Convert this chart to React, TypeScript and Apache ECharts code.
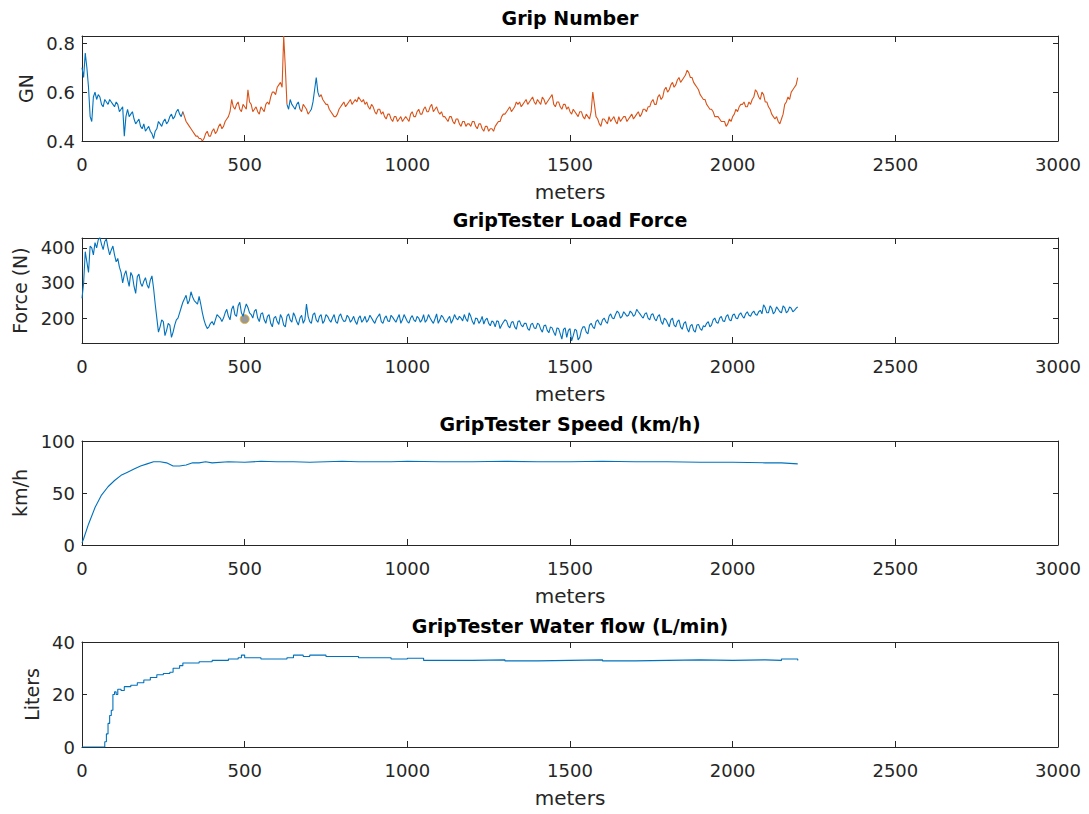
import React, { useEffect, useRef } from "react";
import * as echarts from "echarts";

// ---------- DATA ----------
const STEP_M = 10; // main sample spacing (m); MID arrays hold the samples in between (5 m offset)

// Grip number, every 10 m from 0 to 2200 m
const GN: number[] = [
  0.70, 0.76, 0.62, 0.48, 0.60, 0.59, 0.55, 0.57, 0.55, 0.56,
  0.54, 0.55, 0.53, 0.42, 0.53, 0.51, 0.49, 0.48, 0.46, 0.47,
  0.45, 0.44, 0.41, 0.45, 0.47, 0.48, 0.47, 0.50, 0.49, 0.52,
  0.51, 0.52, 0.48, 0.46, 0.44, 0.42, 0.41, 0.40, 0.43, 0.42,
  0.44, 0.43, 0.46, 0.45, 0.48, 0.50, 0.57, 0.53, 0.56, 0.52,
  0.54, 0.61, 0.55, 0.53, 0.52, 0.54, 0.52, 0.56, 0.58, 0.60,
  0.62, 0.64, 0.83, 0.55, 0.57, 0.54, 0.55, 0.53, 0.55, 0.53,
  0.52, 0.56, 0.66, 0.58, 0.57, 0.55, 0.53, 0.51, 0.50, 0.53,
  0.55, 0.54, 0.56, 0.55, 0.57, 0.58, 0.56, 0.55, 0.54, 0.55,
  0.52, 0.53, 0.51, 0.50, 0.51, 0.49, 0.50, 0.48, 0.50, 0.49,
  0.49, 0.51, 0.50, 0.52, 0.51, 0.53, 0.52, 0.54, 0.52, 0.54,
  0.51, 0.50, 0.49, 0.50, 0.48, 0.49, 0.47, 0.48, 0.46, 0.47,
  0.48, 0.46, 0.47, 0.45, 0.46, 0.44, 0.45, 0.46, 0.48, 0.50,
  0.51, 0.53, 0.52, 0.54, 0.55, 0.54, 0.56, 0.55, 0.57, 0.56,
  0.57, 0.55, 0.57, 0.56, 0.58, 0.55, 0.56, 0.54, 0.55, 0.53,
  0.52, 0.53, 0.51, 0.52, 0.50, 0.51, 0.49, 0.60, 0.50, 0.47,
  0.49, 0.48, 0.50, 0.49, 0.48, 0.50, 0.49, 0.50, 0.49, 0.51,
  0.50, 0.52, 0.51, 0.53, 0.54, 0.56, 0.55, 0.58, 0.57, 0.61,
  0.60, 0.63, 0.62, 0.65, 0.64, 0.66, 0.69, 0.66, 0.64, 0.62,
  0.59, 0.57, 0.55, 0.53, 0.52, 0.50, 0.49, 0.48, 0.46, 0.49,
  0.50, 0.53, 0.54, 0.55, 0.54, 0.56, 0.57, 0.61, 0.58, 0.60,
  0.56, 0.54, 0.51, 0.49, 0.48, 0.49, 0.55, 0.58, 0.60, 0.62,
  0.66,
];
// Grip number at 5, 15, 25 ... 2195 m
const GN_MID: number[] = [
  0.66, 0.70, 0.50, 0.58, 0.57, 0.58, 0.54, 0.56, 0.57, 0.55,
  0.56, 0.52, 0.54, 0.50, 0.50, 0.52, 0.47, 0.49, 0.45, 0.44,
  0.46, 0.43, 0.44, 0.48, 0.46, 0.49, 0.48, 0.51, 0.50, 0.53,
  0.50, 0.50, 0.47, 0.45, 0.43, 0.42, 0.41, 0.41, 0.44, 0.42,
  0.45, 0.44, 0.47, 0.46, 0.49, 0.52, 0.54, 0.55, 0.53, 0.55,
  0.53, 0.56, 0.52, 0.54, 0.51, 0.53, 0.55, 0.55, 0.60, 0.59,
  0.63, 0.62, 0.70, 0.53, 0.55, 0.53, 0.56, 0.52, 0.54, 0.51,
  0.53, 0.61, 0.60, 0.59, 0.56, 0.55, 0.52, 0.50, 0.51, 0.54,
  0.56, 0.55, 0.57, 0.56, 0.56, 0.57, 0.57, 0.56, 0.53, 0.54,
  0.51, 0.53, 0.52, 0.49, 0.51, 0.48, 0.50, 0.49, 0.48, 0.50,
  0.48, 0.52, 0.50, 0.53, 0.51, 0.54, 0.52, 0.55, 0.53, 0.52,
  0.52, 0.50, 0.48, 0.50, 0.47, 0.49, 0.46, 0.48, 0.47, 0.46,
  0.48, 0.45, 0.47, 0.44, 0.46, 0.45, 0.44, 0.47, 0.48, 0.51,
  0.52, 0.54, 0.53, 0.56, 0.56, 0.55, 0.57, 0.56, 0.58, 0.55,
  0.56, 0.58, 0.55, 0.57, 0.59, 0.54, 0.56, 0.53, 0.55, 0.54,
  0.51, 0.52, 0.50, 0.52, 0.49, 0.50, 0.52, 0.55, 0.49, 0.46,
  0.49, 0.47, 0.48, 0.50, 0.47, 0.48, 0.50, 0.48, 0.50, 0.49,
  0.51, 0.50, 0.53, 0.52, 0.54, 0.57, 0.55, 0.59, 0.58, 0.62,
  0.61, 0.64, 0.63, 0.66, 0.65, 0.67, 0.68, 0.66, 0.63, 0.61,
  0.58, 0.57, 0.54, 0.53, 0.50, 0.50, 0.48, 0.48, 0.47, 0.48,
  0.51, 0.52, 0.55, 0.56, 0.54, 0.55, 0.58, 0.60, 0.57, 0.59,
  0.56, 0.53, 0.50, 0.50, 0.47, 0.51, 0.56, 0.57, 0.61, 0.63,
];
// Stretches (m) drawn in blue (raw) and in orange
const GN_BLUE_RANGES = [[0, 310], [630, 670], [700, 730]];
const GN_ORANGE_RANGES = [[310, 630], [670, 700], [730, 2200]];

// Load force (N), every 10 m from 0 to 2200 m
const FORCE: number[] = [
  256, 389, 330, 400, 415, 423, 410, 418, 400, 394,
  380, 370, 330, 323, 310, 330, 290, 318, 300, 305,
  295, 308, 285, 200, 175, 190, 165, 180, 160, 195,
  215, 245, 265, 250, 260, 245, 262, 215, 180, 175,
  190, 195, 205, 190, 215, 205, 225, 210, 235, 215,
  225, 230, 210, 220, 200, 212, 195, 205, 185, 200,
  190, 210, 180, 205, 195, 215, 190, 200, 185, 240,
  190, 210, 195, 205, 185, 210, 195, 200, 190, 205,
  198, 192, 202, 195, 190, 200, 188, 205, 195, 200,
  185, 205, 190, 200, 192, 208, 195, 200, 185, 210,
  190, 200, 195, 205, 188, 210, 195, 200, 185, 212,
  195, 202, 188, 205, 195, 200, 205, 192, 198, 215,
  190, 200, 185, 205, 195, 185, 192, 175, 190, 180,
  195, 178, 188, 175, 190, 180, 185, 170, 182, 172,
  185, 168, 178, 165, 175, 160, 172, 155, 168, 145,
  170, 150, 165, 145, 175, 160, 180, 175, 190, 185,
  195, 190, 205, 200, 210, 215, 205, 212, 208, 215,
  210, 218, 205, 212, 200, 210, 198, 205, 190, 200,
  185, 195, 180, 190, 175, 185, 170, 178, 165, 180,
  170, 178, 185, 175, 195, 188, 200, 192, 205, 195,
  208, 200, 210, 205, 212, 208, 215, 210, 218, 212,
  230, 215, 228, 218, 225, 215, 230, 220, 228, 222,
  232,
];
// Load force at 5, 15, 25 ... 2195 m
const FORCE_MID: number[] = [
  300, 360, 405, 380, 400, 430, 395, 425, 380, 405,
  360, 345, 300, 335, 290, 320, 270, 325, 290, 315,
  285, 320, 240, 160, 195, 150, 185, 145, 180, 200,
  230, 255, 240, 275, 250, 240, 240, 195, 170, 185,
  180, 210, 200, 200, 225, 195, 235, 205, 245, 205,
  240, 215, 200, 225, 190, 215, 185, 210, 175, 205,
  182, 200, 175, 212, 188, 205, 180, 208, 195, 205,
  185, 215, 188, 210, 192, 205, 188, 210, 185, 212,
  190, 208, 188, 205, 182, 206, 195, 188, 208, 192,
  198, 212, 185, 206, 190, 202, 188, 210, 195, 200,
  186, 207, 190, 200, 195, 188, 210, 192, 198, 185,
  208, 192, 198, 185, 210, 195, 200, 210, 190, 205,
  182, 198, 192, 183, 200, 178, 188, 192, 170, 188,
  192, 172, 190, 168, 192, 175, 185, 165, 185, 170,
  182, 160, 180, 158, 172, 150, 170, 140, 172, 165,
  135, 168, 138, 165, 175, 155, 185, 170, 195, 180,
  200, 185, 212, 198, 220, 200, 218, 205, 220, 205,
  225, 212, 200, 215, 195, 212, 192, 210, 182, 195,
  175, 200, 175, 195, 168, 190, 160, 182, 160, 182,
  165, 175, 190, 180, 200, 185, 205, 190, 210, 192,
  212, 198, 215, 200, 218, 205, 220, 208, 222, 238,
  215, 235, 212, 232, 218, 235, 215, 232, 218, 228,
];
const FORCE_MARK_M = [500];
const FORCE_MARK_V = [197];

// Speed (km/h)
const SPEED_M = [0, 5, 20, 40, 60, 80, 100, 120, 140, 160, 180, 200, 220, 240, 260, 280, 300, 320, 340, 360, 380, 400, 450, 500, 550, 600, 650, 700, 750, 800, 850, 900, 950, 1000, 1100, 1200, 1300, 1400, 1500, 1600, 1700, 1800, 1900, 2000, 2100, 2150, 2200];
const SPEED_V = [2, 6, 20, 36, 48, 56, 62, 67, 70, 73, 76, 78, 80, 80, 79, 76, 76, 77, 79, 79, 80, 79, 80, 79.5, 80.5, 80, 80, 79.5, 80, 80.5, 80, 80, 80, 80.5, 80, 80, 80.5, 80, 80, 80.5, 80, 80, 79.5, 79.5, 79, 79, 78];

// Water flow (L/min)
const WATER_M = [0, 65, 70, 75, 80, 85, 90, 95, 100, 105, 110, 120, 130, 150, 170, 190, 210, 230, 250, 270, 280, 290, 300, 310, 320, 340, 360, 400, 450, 480, 490, 500, 550, 600, 630, 650, 680, 700, 720, 750, 800, 850, 900, 950, 1000, 1050, 1100, 1200, 1300, 1400, 1500, 1600, 1700, 1800, 1900, 2000, 2100, 2150, 2200];
const WATER_V = [0, 0, 2, 5, 9, 12, 14, 20, 21, 20, 22, 21.5, 23, 23.5, 24.5, 25.5, 26.5, 27.5, 28, 28.5, 30, 30, 31, 32, 32, 32, 32.5, 33, 33.5, 34, 35, 34, 33.5, 33.5, 34, 35, 34.5, 35, 35, 34.5, 34.5, 34, 34, 33.5, 33.8, 33, 33, 33.2, 32.8, 33, 33.2, 32.8, 33, 33.2, 33, 33.2, 33, 33.5, 33];

// Axis tick values
const Y_TICKS = [[0.4, 0.6, 0.8], [200, 300, 400], [0, 50, 100], [0, 20, 40]];
const Y_LIMITS = [[0.4, 0.83], [129, 428], [0, 100], [0, 40]];

// ---------- STYLE ----------
const FONT = '"DejaVu Sans", "Liberation Sans", Arial, sans-serif';
const AX = "#262626";
const BLUE = "#0072BD";
const ORANGE = "#D95319";

const GRIDS = [
  { top: 36, height: 105 },
  { top: 238, height: 105 },
  { top: 441, height: 104 },
  { top: 642, height: 105 },
];
const TITLES = ["Grip Number", "GripTester Load Force", "GripTester Speed (km/h)", "GripTester Water flow (L/min)"];
const TITLE_Y = [18, 220, 424, 626];
const Y_NAMES = ["GN", "Force (N)", "km/h", "Liters"];
const Y_NAME_GAP = [46, 50, 50, 39];

const pairs = (xs: number[], ys: number[]) => ys.map((v, i) => [xs[i], v]);
const dense = (main: number[], mid: number[]) => {
  const out: [number, number][] = [];
  main.forEach((v, k) => {
    out.push([k * STEP_M, v]);
    if (k < mid.length) out.push([k * STEP_M + STEP_M / 2, mid[k]]);
  });
  return out;
};
const inRanges = (x: number, ranges: number[][]) => ranges.some(([a, b]) => x >= a && x <= b);
const masked = (pts: [number, number][], ranges: number[][]) =>
  pts.map(([x, y]) => [x, inRanges(x, ranges) ? y : null]);

export default function App() {
  const ref = useRef<HTMLDivElement>(null);
  useEffect(() => {
    if (!ref.current) return;
    const chart = echarts.init(ref.current, undefined, { renderer: "svg" });
    const lineStyle = { color: AX, width: 1 };
    const xAxes: any[] = [];
    const yAxes: any[] = [];
    GRIDS.forEach((_, i) => {
      xAxes.push({
        type: "value", gridIndex: i, min: 0, max: 3000, interval: 500, position: "bottom",
        name: "meters", nameLocation: "middle", nameGap: 41,
        nameTextStyle: { fontSize: 20, color: AX, fontFamily: FONT },
        axisLine: { show: true, onZero: false, lineStyle },
        axisTick: { show: true, inside: true, length: 6, lineStyle },
        axisLabel: { fontSize: 18, color: AX, fontFamily: FONT, margin: 14, formatter: (v: number) => String(v) },
        splitLine: { show: false },
      });
    });
    GRIDS.forEach((_, i) => {
      xAxes.push({
        type: "value", gridIndex: i, min: 0, max: 3000, interval: 500, position: "top",
        axisLine: { show: true, onZero: false, lineStyle },
        axisTick: { show: true, inside: true, length: 6, lineStyle },
        axisLabel: { show: false },
        splitLine: { show: false },
      });
    });
    GRIDS.forEach((_, i) => {
      yAxes.push({
        type: "value", gridIndex: i, min: Y_LIMITS[i][0], max: Y_LIMITS[i][1], position: "left",
        name: Y_NAMES[i], nameLocation: "middle", nameGap: Y_NAME_GAP[i],
        nameTextStyle: { fontSize: 19, color: AX, fontFamily: FONT },
        axisLine: { show: true, onZero: false, lineStyle },
        axisTick: { show: true, inside: true, length: 5, lineStyle, customValues: Y_TICKS[i] },
        axisLabel: { fontSize: 18, color: AX, fontFamily: FONT, margin: 7, customValues: Y_TICKS[i], formatter: (v: number) => String(v) },
        splitLine: { show: false },
      });
    });
    GRIDS.forEach((_, i) => {
      yAxes.push({
        type: "value", gridIndex: i, min: Y_LIMITS[i][0], max: Y_LIMITS[i][1], position: "right",
        axisLine: { show: true, onZero: false, lineStyle },
        axisTick: { show: true, inside: true, length: 5, lineStyle, customValues: Y_TICKS[i] },
        axisLabel: { show: false },
        splitLine: { show: false },
      });
    });
    const line = (name: string, xi: number, data: any[], color: string, extra: any = {}) => ({
      name, type: "line", xAxisIndex: xi, yAxisIndex: xi, data, showSymbol: false, symbol: "none",
      connectNulls: false, lineStyle: { color, width: 1.1 }, itemStyle: { color }, silent: true, ...extra,
    });
    const gnPts = dense(GN, GN_MID);
    chart.setOption({
      animation: false,
      backgroundColor: "#ffffff",
      grid: GRIDS.map((g) => ({ left: 82, width: 976, top: g.top, height: g.height, containLabel: false })),
      xAxis: xAxes,
      yAxis: yAxes,
      graphic: TITLES.map((t, i) => ({
        type: "text", x: 570, y: TITLE_Y[i],
        style: { text: t, fill: "#000", font: `bold 19px ${FONT}`, textAlign: "center", textVerticalAlign: "middle" },
      })),
      series: [
        line("GN raw", 0, masked(gnPts, GN_BLUE_RANGES), BLUE),
        line("GN", 0, masked(gnPts, GN_ORANGE_RANGES), ORANGE),
        line("Load force", 1, dense(FORCE, FORCE_MID), BLUE),
        {
          name: "marker", type: "scatter", xAxisIndex: 1, yAxisIndex: 1, data: pairs(FORCE_MARK_M, FORCE_MARK_V),
          symbolSize: 9, itemStyle: { color: "#808080", borderColor: "#EDB120", borderWidth: 1 },
        },
        line("Speed", 2, pairs(SPEED_M, SPEED_V), BLUE),
        line("Water flow", 3, pairs(WATER_M, WATER_V), BLUE, { step: "end" }),
      ],
    });
    return () => chart.dispose();
  }, []);
  return (
    <div
      ref={ref}
      style={{ position: "fixed", left: 0, top: 0, width: 1089, height: 814, background: "#fff" }}
    />
  );
}
